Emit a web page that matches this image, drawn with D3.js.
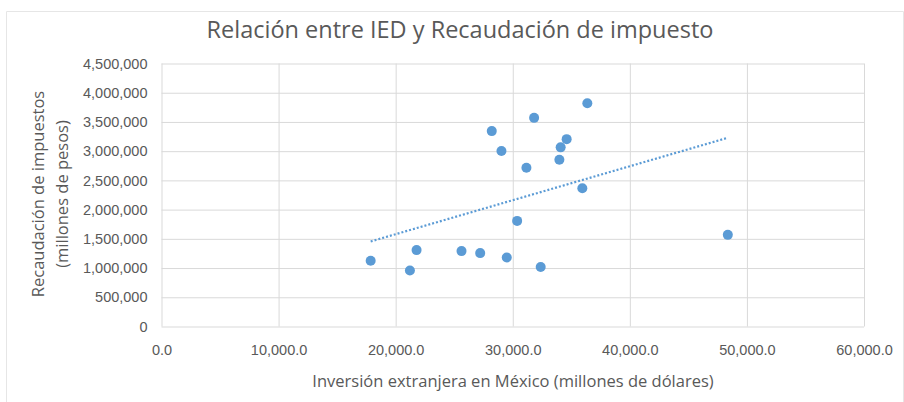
<!DOCTYPE html>
<html>
<head>
<meta charset="utf-8">
<script src="https://cdn.jsdelivr.net/npm/d3@7"></script>
<style>
  body { margin: 0; background: #fff; }
  svg { display: block; font-family: "Open Sans", sans-serif; }
  .grid line { stroke: #d9d9d9; stroke-width: 1; }
  .grid .domain { display: none; }
  .axis text { fill: #595959; font-size: 14.5px; }
  .axis .domain, .axis line { display: none; }
  .title { fill: #595959; font-size: 23.5px; }
  .axisTitle { fill: #595959; font-size: 16.5px; }
</style>
</head>
<body>
<div id="chart"></div>
<script>
"use strict";

// IED (millones de dolares) vs recaudacion (millones de pesos)
var ied = [36370, 31824, 28209, 34604, 34092, 29035, 33982, 31168, 35943,
  30375, 17865, 21787, 21216, 25625, 27219, 29488, 32387, 48368];
var recaudacion = [3821000, 3570000, 3343000, 3206000, 3065000, 3002000, 2853000, 2717000, 2365000,
  1807000, 1125000, 1307000, 959000, 1290000, 1256000, 1181000, 1017000, 1568000];

var xTicks = [0, 10000, 20000, 30000, 40000, 50000, 60000];
var yTicks = [0, 500000, 1000000, 1500000, 2000000, 2500000, 3000000, 3500000, 4000000, 4500000];

function scatterChart(w, h) {
  var left = 161.5, right = 864, top = 63.5, bottom = 326.5;

  var xScale = d3.scaleLinear().domain([0, 60000]).range([left, right]);
  var yScale = d3.scaleLinear().domain([0, 4500000]).range([bottom, top]);

  var svg = d3.select("#chart")
    .append("svg")
    .attr("width", w)
    .attr("height", h);

  //outer chart border
  svg.append("path")
    .attr("d", "M6.5," + h + "V11.5H" + (w - 0.5) + "V" + h)
    .attr("fill", "none")
    .attr("stroke", "#e6e6e6");

  //gridlines
  svg.append("g")
    .attr("class", "grid")
    .attr("transform", "translate(0," + bottom + ")")
    .call(d3.axisBottom(xScale).tickValues(xTicks).tickSize(-(bottom - top)).tickFormat(""));

  svg.append("g")
    .attr("class", "grid")
    .attr("transform", "translate(" + left + ",0)")
    .call(d3.axisLeft(yScale).tickValues(yTicks).tickSize(-(right - left)).tickFormat(""));

  //axes labels
  svg.append("g")
    .attr("class", "axis")
    .attr("transform", "translate(0," + (bottom + 15) + ")")
    .call(d3.axisBottom(xScale).tickValues(xTicks).tickSize(0).tickFormat(d3.format(",.1f")));

  svg.append("g")
    .attr("class", "axis")
    .attr("transform", "translate(" + (left - 11) + ",0)")
    .call(d3.axisLeft(yScale).tickValues(yTicks).tickSize(0).tickFormat(d3.format(",")));

  //linear trend line (least squares)
  var mx = d3.mean(ied), my = d3.mean(recaudacion);
  var sxy = d3.sum(ied, function (d, i) { return (d - mx) * (recaudacion[i] - my); });
  var sxx = d3.sum(ied, function (d) { return (d - mx) * (d - mx); });
  var slope = sxy / sxx, icpt = my - slope * mx;
  var xr = d3.extent(ied);

  svg.append("line")
    .attr("x1", xScale(xr[0]))
    .attr("y1", yScale(icpt + slope * xr[0]))
    .attr("x2", xScale(xr[1]))
    .attr("y2", yScale(icpt + slope * xr[1]))
    .attr("stroke", "#5b9bd5")
    .attr("stroke-width", 2.2)
    .attr("stroke-dasharray", "2,2");

  //points
  svg.selectAll("circle")
    .data(ied)
    .enter()
    .append("circle")
    .attr("cx", function (d) { return xScale(d); })
    .attr("cy", function (d, i) { return yScale(recaudacion[i]); })
    .attr("r", 5)
    .attr("fill", "#5b9bd5");

  //titles
  svg.append("text")
    .attr("class", "title")
    .attr("x", 460)
    .attr("y", 38)
    .attr("text-anchor", "middle")
    .text("Relación entre IED y Recaudación de impuesto");

  svg.append("text")
    .attr("class", "axisTitle")
    .attr("x", 513)
    .attr("y", 387)
    .attr("text-anchor", "middle")
    .text("Inversión extranjera en México (millones de dólares)");

  var yt = svg.append("text")
    .attr("class", "axisTitle")
    .attr("text-anchor", "middle")
    .attr("transform", "translate(44,194) rotate(-90)");
  yt.append("tspan").attr("x", 0).attr("y", 0).text("Recaudación de impuestos");
  yt.append("tspan").attr("x", 0).attr("y", 24).text("(millones de pesos)");
}

window.onload = function () { scatterChart(904, 402); };
</script>
</body>
</html>
